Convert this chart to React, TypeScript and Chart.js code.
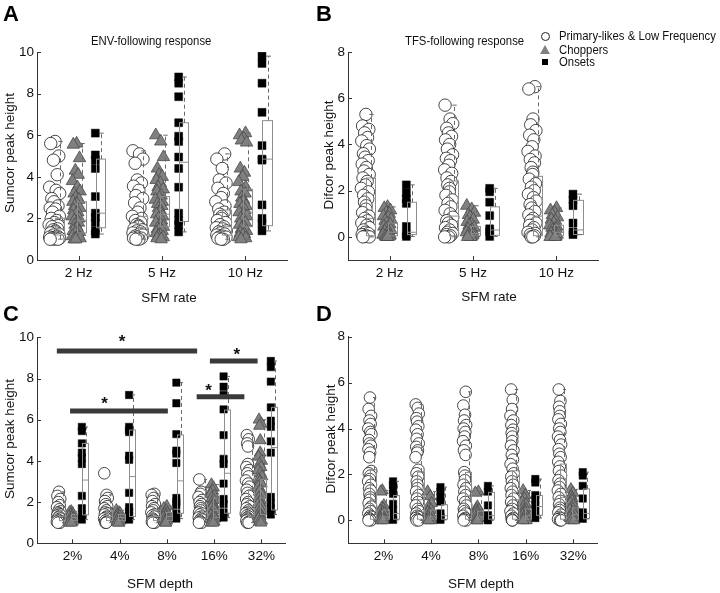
import React, { useEffect, useRef } from "react";
import { Chart, registerables } from "chart.js";
Chart.register(...registerables);

const W = 720;
const H = 593;
const FONT = "'Liberation Sans', Arial, Helvetica, sans-serif";

// ---------- categories & ticks ----------
const RATE_LABELS = ["2 Hz", "5 Hz", "10 Hz"];
const DEPTH_LABELS = ["2%", "4%", "8%", "16%", "32%"];
const SUMCOR_TICKS = [0, 2, 4, 6, 8, 10];
const DIFCOR_TICKS = [0, 2, 4, 6, 8];

// fixed hand-typed horizontal jitter pattern (normalised, -1..1)
const JITTER = [0.1, -0.7, 0.8, -0.2, 0.5, -0.9, 0.3, 0.95, -0.5, -0.1, 0.65, -0.8, 0.2, -0.35, 0.9, -0.6, 0.4, 0, -1, 0.7, -0.45, 0.55, -0.25, 0.15];

// ---------- Panel A: Sumcor, SFM rate ----------
const A_PL = [
  [5.7, 5.6, 5.0, 4.8, 4.1, 3.5, 3.35, 3.2, 2.95, 2.8, 2.6, 2.5, 2.45, 2.3, 2.1, 2.0, 1.9, 1.8, 1.7, 1.65, 1.6, 1.5, 1.45, 1.4, 1.35, 1.3, 1.25, 1.2, 1.15, 1.1, 1.1, 1.05, 1.05, 1.0, 1.0, 1.0],
  [5.25, 5.1, 4.85, 4.65, 3.85, 3.7, 3.55, 3.35, 3.1, 2.95, 2.75, 2.5, 2.3, 2.1, 2.0, 1.9, 1.8, 1.7, 1.65, 1.6, 1.5, 1.45, 1.4, 1.35, 1.3, 1.25, 1.2, 1.15, 1.1, 1.05, 1.05, 1.0, 1.0],
  [5.1, 4.85, 4.4, 3.85, 3.7, 3.45, 3.2, 3.0, 2.8, 2.6, 2.45, 2.3, 2.2, 2.1, 2.0, 1.9, 1.8, 1.7, 1.6, 1.55, 1.5, 1.4, 1.35, 1.3, 1.25, 1.2, 1.15, 1.1, 1.1, 1.05, 1.0, 1.0],
];
const A_CH = [
  [5.6, 5.55, 4.9, 4.3, 4.1, 3.8, 3.5, 3.3, 3.2, 3.0, 2.9, 2.8, 2.7, 2.6, 2.5, 2.4, 2.3, 2.2, 2.1, 2.0, 1.9, 1.8, 1.7, 1.6, 1.5, 1.4, 1.35, 1.3, 1.2, 1.15, 1.1, 1.05, 1.0, 1.0],
  [6.0, 5.7, 4.95, 4.4, 4.1, 4.0, 3.85, 3.7, 3.5, 3.4, 3.3, 3.1, 3.0, 2.9, 2.8, 2.7, 2.6, 2.5, 2.4, 2.3, 2.2, 2.1, 2.0, 1.9, 1.8, 1.7, 1.6, 1.5, 1.45, 1.4, 1.3, 1.2, 1.15, 1.1, 1.05, 1.0],
  [6.1, 6.0, 5.85, 5.75, 5.65, 4.4, 4.2, 4.0, 3.75, 3.5, 3.3, 3.2, 3.0, 2.9, 2.8, 2.7, 2.6, 2.5, 2.4, 2.3, 2.2, 2.1, 2.0, 1.9, 1.8, 1.7, 1.6, 1.5, 1.4, 1.3, 1.25, 1.2, 1.1, 1.05, 1.0],
];
const A_ON = [
  [6.1, 5.05, 4.8, 4.4, 3.05, 2.25, 2.05, 1.8, 1.4, 1.25],
  [8.8, 8.5, 7.85, 6.6, 5.95, 5.7, 4.95, 4.4, 3.5, 2.25, 1.9, 1.7, 1.35],
  [9.8, 9.45, 8.5, 7.1, 5.5, 4.85, 4.8, 2.65, 2.0, 1.75, 1.4],
];
// box stats: [min, q1, median, q3, max]
const A_PL_BOX = [[1.0, 1.2, 1.5, 2.0, 5.7], [1.0, 1.2, 1.55, 2.1, 5.25], [1.0, 1.2, 1.6, 2.4, 5.1]];
const A_CH_BOX = [[1.0, 1.3, 1.9, 2.8, 5.6], [1.0, 1.6, 2.2, 3.05, 6.0], [1.0, 1.6, 2.3, 3.4, 6.1]];
const A_ON_BOX = [[1.25, 1.55, 2.25, 4.85, 6.1], [1.35, 1.85, 4.7, 6.6, 8.8], [1.4, 1.65, 4.85, 6.7, 9.8]];

// ---------- Panel B: Difcor, SFM rate ----------
const B_PL = [
  [5.3, 4.8, 4.65, 4.5, 4.3, 4.15, 3.95, 3.8, 3.6, 3.45, 3.3, 3.15, 3.0, 2.85, 2.7, 2.55, 2.4, 2.25, 2.1, 1.95, 1.8, 1.65, 1.5, 1.35, 1.2, 1.05, 0.9, 0.8, 0.7, 0.6, 0.5, 0.4, 0.3, 0.2, 0.15, 0.1, 0.05, 0.02, 0.0, 0.0],
  [5.7, 5.1, 4.9, 4.7, 4.5, 4.35, 4.2, 4.0, 3.8, 3.55, 3.4, 3.3, 3.1, 2.9, 2.75, 2.55, 2.4, 2.25, 2.1, 1.95, 1.8, 1.6, 1.45, 1.3, 1.15, 1.0, 0.85, 0.7, 0.6, 0.5, 0.4, 0.3, 0.2, 0.15, 0.1, 0.05, 0.0, 0.0],
  [6.5, 6.4, 5.1, 4.85, 4.6, 4.4, 4.2, 3.9, 3.7, 3.5, 3.35, 3.2, 3.0, 2.8, 2.7, 2.5, 2.3, 2.15, 2.0, 1.85, 1.7, 1.55, 1.4, 1.25, 1.1, 0.95, 0.8, 0.7, 0.6, 0.5, 0.4, 0.3, 0.2, 0.15, 0.1, 0.05, 0.0, 0.0],
];
const B_CH = [
  [1.3, 1.25, 1.15, 1.05, 1.0, 0.9, 0.85, 0.75, 0.7, 0.6, 0.55, 0.45, 0.4, 0.35, 0.3, 0.25, 0.2, 0.15, 0.1, 0.08, 0.05, 0.03, 0.0, 0.0, 0.0],
  [1.35, 1.2, 1.05, 0.95, 0.85, 0.75, 0.65, 0.55, 0.5, 0.4, 0.35, 0.3, 0.25, 0.2, 0.15, 0.1, 0.07, 0.05, 0.02, 0.0, 0.0],
  [1.25, 1.15, 1.05, 0.95, 0.85, 0.75, 0.7, 0.6, 0.5, 0.45, 0.4, 0.35, 0.3, 0.25, 0.2, 0.15, 0.1, 0.05, 0.02, 0.0, 0.0],
];
const B_ON = [
  [2.25, 1.9, 1.65, 1.45, 0.45, 0.12, 0.02],
  [2.1, 1.95, 1.5, 0.92, 0.35, 0.22, 0.02],
  [1.85, 1.6, 1.35, 0.6, 0.22, 0.1],
];
const B_PL_BOX = [[0.0, 0.05, 0.8, 2.55, 5.3], [0.0, 0.05, 0.9, 2.42, 5.7], [0.0, 0.05, 0.9, 2.62, 6.5]];
const B_CH_BOX = [[0.0, 0.05, 0.2, 0.6, 1.3], [0.0, 0.05, 0.15, 0.45, 1.35], [0.0, 0.05, 0.2, 0.5, 1.25]];
const B_ON_BOX = [[0.02, 0.1, 0.2, 1.5, 2.25], [0.02, 0.07, 0.3, 1.3, 2.1], [0.1, 0.1, 0.3, 1.58, 1.85]];

// ---------- Panel C: Sumcor, SFM depth ----------
const C_PL = [
  [2.5, 2.3, 2.15, 2.0, 1.85, 1.75, 1.65, 1.55, 1.5, 1.45, 1.4, 1.35, 1.3, 1.25, 1.2, 1.15, 1.1, 1.1, 1.05, 1.0, 1.0],
  [3.4, 2.35, 2.2, 2.05, 1.9, 1.8, 1.7, 1.6, 1.5, 1.45, 1.4, 1.3, 1.25, 1.2, 1.15, 1.1, 1.05, 1.0, 1.0],
  [2.4, 2.35, 2.2, 2.05, 1.9, 1.8, 1.7, 1.6, 1.5, 1.4, 1.35, 1.3, 1.2, 1.15, 1.1, 1.05, 1.0, 1.0],
  [3.1, 2.5, 2.4, 2.25, 2.1, 2.0, 1.9, 1.8, 1.7, 1.6, 1.5, 1.45, 1.4, 1.3, 1.25, 1.2, 1.15, 1.1, 1.05, 1.0, 1.0],
  [5.25, 5.05, 4.85, 4.7, 3.85, 3.7, 3.55, 3.4, 3.25, 3.05, 2.9, 2.75, 2.6, 2.45, 2.3, 2.15, 2.0, 1.9, 1.8, 1.7, 1.6, 1.5, 1.45, 1.4, 1.35, 1.3, 1.25, 1.2, 1.15, 1.1, 1.05, 1.0, 1.0],
];
const C_CH = [
  [1.55, 1.5, 1.45, 1.4, 1.35, 1.3, 1.25, 1.2, 1.15, 1.1, 1.05, 1.0, 1.0],
  [1.6, 1.5, 1.45, 1.4, 1.35, 1.3, 1.25, 1.2, 1.15, 1.1, 1.05, 1.0, 1.0],
  [1.8, 1.7, 1.6, 1.5, 1.45, 1.4, 1.35, 1.3, 1.25, 1.2, 1.15, 1.1, 1.05, 1.0, 1.0],
  [2.85, 2.7, 2.55, 2.4, 2.3, 2.2, 2.1, 2.0, 1.9, 1.8, 1.7, 1.6, 1.5, 1.4, 1.35, 1.3, 1.2, 1.15, 1.1, 1.05, 1.0, 1.0],
  [6.0, 5.8, 5.7, 5.0, 4.4, 4.2, 4.0, 3.85, 3.7, 3.55, 3.4, 3.25, 3.1, 3.0, 2.9, 2.75, 2.6, 2.5, 2.35, 2.2, 2.1, 2.0, 1.9, 1.8, 1.7, 1.6, 1.5, 1.4, 1.3, 1.2, 1.1, 1.05, 1.0],
];
const C_ON = [
  [5.65, 5.45, 4.85, 4.4, 4.15, 3.85, 2.3, 1.7, 1.35, 1.15],
  [7.2, 5.65, 5.5, 5.4, 4.25, 4.05, 2.45, 1.75, 1.55, 1.35, 1.15],
  [7.8, 6.8, 5.3, 4.5, 4.35, 3.9, 2.2, 2.0, 1.85, 1.45, 1.2],
  [8.1, 7.6, 7.2, 6.5, 5.25, 4.1, 3.85, 2.9, 2.15, 1.9, 1.5, 1.25],
  [8.85, 8.55, 7.85, 6.6, 5.95, 5.65, 4.95, 4.4, 2.25, 1.95, 1.7, 1.4],
];
const C_PL_BOX = [[1.0, 1.1, 1.3, 1.6, 2.5], [1.0, 1.1, 1.3, 1.6, 2.35], [1.0, 1.1, 1.3, 1.6, 2.4], [1.0, 1.2, 1.5, 1.9, 3.1], [1.0, 1.3, 1.8, 2.6, 5.25]];
const C_CH_BOX = [[1.0, 1.1, 1.25, 1.4, 1.55], [1.0, 1.1, 1.25, 1.4, 1.6], [1.0, 1.1, 1.3, 1.5, 1.8], [1.0, 1.25, 1.6, 2.2, 2.85], [1.0, 1.4, 2.2, 3.1, 6.0]];
const C_ON_BOX = [[1.15, 1.38, 3.07, 4.85, 5.65], [1.15, 1.3, 3.24, 5.5, 7.2], [1.2, 1.46, 3.03, 5.26, 7.8], [1.25, 1.46, 3.4, 6.47, 8.1], [1.4, 1.62, 4.65, 6.6, 8.85]];
// significance bars: [x start, x end, y]; stars: [x, y]
const C_SIG_BARS = [[0.67, 3.64, 9.33], [0.95, 3.02, 6.42], [3.63, 4.64, 7.12], [3.91, 4.92, 8.85]];
const C_SIG_STARS = [[2.05, 9.95], [1.68, 6.92], [3.88, 7.58], [4.48, 9.3]];

// ---------- Panel D: Difcor, SFM depth ----------
const D_PL = [
  [5.35, 4.85, 4.55, 4.35, 4.2, 4.0, 3.85, 3.75, 3.5, 3.35, 3.25, 3.1, 2.95, 2.75, 2.15, 2.05, 1.95, 1.8, 1.7, 1.55, 1.4, 1.3, 1.15, 1.0, 0.9, 0.75, 0.6, 0.5, 0.4, 0.3, 0.2, 0.15, 0.1, 0.05, 0.0, 0.0],
  [5.05, 4.9, 4.65, 4.45, 4.3, 4.1, 3.95, 3.75, 3.55, 3.35, 3.2, 3.05, 2.95, 2.75, 2.2, 2.05, 1.9, 1.7, 1.55, 1.4, 1.25, 1.1, 0.95, 0.8, 0.65, 0.5, 0.4, 0.3, 0.2, 0.15, 0.1, 0.05, 0.0, 0.0],
  [5.6, 5.0, 4.6, 4.35, 4.15, 4.0, 3.85, 3.65, 3.45, 3.25, 3.05, 2.85, 2.1, 1.95, 1.75, 1.55, 1.4, 1.25, 1.1, 0.95, 0.8, 0.65, 0.5, 0.4, 0.3, 0.2, 0.1, 0.05, 0.0, 0.0],
  [5.7, 5.25, 4.85, 4.55, 4.35, 4.15, 3.95, 3.8, 3.65, 3.45, 3.25, 3.05, 2.85, 2.65, 2.45, 2.25, 2.05, 1.9, 1.7, 1.55, 1.4, 1.25, 1.1, 0.95, 0.8, 0.65, 0.5, 0.4, 0.3, 0.2, 0.1, 0.05, 0.0, 0.0],
  [5.7, 5.2, 4.95, 4.75, 4.55, 4.4, 4.2, 4.0, 3.85, 3.65, 3.5, 3.3, 3.1, 2.9, 2.75, 2.55, 2.35, 2.15, 1.95, 1.75, 1.6, 1.45, 1.3, 1.15, 1.0, 0.85, 0.7, 0.55, 0.45, 0.35, 0.25, 0.15, 0.1, 0.05, 0.0, 0.0],
];
const D_CH = [
  [1.3, 1.25, 0.65, 0.55, 0.5, 0.4, 0.35, 0.3, 0.25, 0.2, 0.15, 0.1, 0.08, 0.05, 0.03, 0.0, 0.0],
  [1.25, 1.05, 0.75, 0.6, 0.5, 0.45, 0.35, 0.3, 0.25, 0.2, 0.15, 0.1, 0.05, 0.03, 0.0, 0.0],
  [1.25, 1.2, 0.6, 0.5, 0.45, 0.4, 0.35, 0.3, 0.25, 0.2, 0.15, 0.1, 0.05, 0.0, 0.0],
  [1.3, 1.1, 0.95, 0.8, 0.7, 0.6, 0.5, 0.45, 0.4, 0.3, 0.25, 0.2, 0.15, 0.1, 0.05, 0.03, 0.0, 0.0],
  [1.35, 1.2, 1.05, 0.95, 0.85, 0.75, 0.65, 0.55, 0.5, 0.45, 0.35, 0.3, 0.25, 0.2, 0.15, 0.1, 0.05, 0.0, 0.0],
];
const D_ON = [
  [1.7, 1.55, 1.35, 1.15, 0.72, 0.45, 0.2, 0.02],
  [1.45, 1.25, 1.0, 0.82, 0.3, 0.15, 0.02],
  [1.5, 1.25, 0.65, 0.22, 0.05, 0.0],
  [1.8, 1.65, 1.1, 0.9, 0.65, 0.35, 0.1],
  [2.1, 1.95, 1.5, 0.95, 0.35, 0.22, 0.07],
];
const D_PL_BOX = [[0.0, 0.05, 0.9, 2.2, 5.35], [0.0, 0.05, 0.9, 2.1, 5.05], [0.0, 0.05, 0.9, 2.09, 5.6], [0.0, 0.05, 0.9, 2.16, 5.7], [0.0, 0.05, 1.0, 2.45, 5.7]];
const D_CH_BOX = [[0.0, 0.05, 0.15, 0.45, 1.3], [0.0, 0.05, 0.15, 0.45, 1.25], [0.0, 0.05, 0.15, 0.4, 1.25], [0.0, 0.05, 0.2, 0.5, 1.3], [0.0, 0.05, 0.25, 0.55, 1.35]];
const D_ON_BOX = [[0.02, 0.05, 0.3, 1.08, 1.7], [0.02, 0.05, 0.2, 0.68, 1.45], [0.0, 0.05, 0.2, 1.22, 1.5], [0.1, 0.22, 0.6, 1.08, 1.8], [0.07, 0.07, 0.3, 1.37, 2.1]];

// ---------- layout / style (not data) ----------
const OFFSET = { pl: -0.29, ch: -0.03, on: 0.2 };

const PANELS = [
  {
    area: [37, 52, 287, 260], x: [0.5, 3.5], y: [0, 10], yTicks: SUMCOR_TICKS, labels: RATE_LABELS,
    pl: A_PL, ch: A_CH, on: A_ON, plBox: A_PL_BOX, chBox: A_CH_BOX, onBox: A_ON_BOX,
    boxW: 0.11, spread: { pl: 0.065, ch: 0.05 }, r: { pl: 6.2, ch: 7.2, on: 5.6 },
  },
  {
    area: [348, 52, 598, 260], x: [0.5, 3.5], y: [-1, 8], yTicks: DIFCOR_TICKS, labels: RATE_LABELS,
    pl: B_PL, ch: B_CH, on: B_ON, plBox: B_PL_BOX, chBox: B_CH_BOX, onBox: B_ON_BOX,
    boxW: 0.11, spread: { pl: 0.05, ch: 0.05 }, r: { pl: 6.2, ch: 7.2, on: 5.6 },
  },
  {
    area: [37, 337.3, 285, 543.3], x: [0.25, 5.5], y: [0, 10], yTicks: SUMCOR_TICKS, labels: DEPTH_LABELS,
    pl: C_PL, ch: C_CH, on: C_ON, plBox: C_PL_BOX, chBox: C_CH_BOX, onBox: C_ON_BOX,
    boxW: 0.13, spread: { pl: 0.04, ch: 0.045 }, r: { pl: 5.8, ch: 6.8, on: 5.2 },
    sigBars: C_SIG_BARS, sigStars: C_SIG_STARS,
  },
  {
    area: [348, 336.7, 597, 543.3], x: [0.25, 5.5], y: [-1, 8], yTicks: DIFCOR_TICKS, labels: DEPTH_LABELS,
    pl: D_PL, ch: D_CH, on: D_ON, plBox: D_PL_BOX, chBox: D_CH_BOX, onBox: D_ON_BOX,
    boxW: 0.13, spread: { pl: 0.035, ch: 0.045 }, r: { pl: 5.8, ch: 6.8, on: 5.2 },
  },
];

function buildPoints(groups: number[][], offset: number, spread: number) {
  const pts: { x: number; y: number }[] = [];
  groups.forEach((vals, i) => {
    vals.forEach((v, j) => {
      pts.push({ x: i + 1 + offset + JITTER[(j + i * 5) % JITTER.length] * spread, y: v });
    });
  });
  return pts;
}

function makeChart(canvas: HTMLCanvasElement, p: any) {
  const [L, T, R, B] = p.area;
  const YW = 30;
  const XH = 30;
  const catTicks = p.labels.map((_: string, i: number) => i + 1);

  const boxes: { x0: number; x1: number; st: number[] }[] = [];
  (["pl", "ch", "on"] as const).forEach((k) => {
    const list = p[k + "Box"] as number[][];
    list.forEach((st, i) => {
      const x0 = i + 1 + OFFSET[k] + 0.005;
      boxes.push({ x0, x1: x0 + p.boxW, st });
    });
  });

  const boxPlugin = {
    id: "boxes",
    afterDatasetsDraw(chart: any) {
      const { ctx } = chart;
      const xs = chart.scales.x;
      const ys = chart.scales.y;
      ctx.save();
      ctx.lineWidth = 1;
      for (const b of boxes) {
        const x0 = Math.round(xs.getPixelForValue(b.x0)) + 0.5;
        const x1 = Math.round(xs.getPixelForValue(b.x1)) + 0.5;
        const xm = Math.round((x0 + x1) / 2) + 0.5;
        const [mn, q1, md, q3, mx] = b.st.map((v) => ys.getPixelForValue(v));
        ctx.strokeStyle = "#8e8e8e";
        ctx.setLineDash([]);
        ctx.strokeRect(x0, q3, x1 - x0, q1 - q3);
        ctx.beginPath();
        ctx.moveTo(x0, md);
        ctx.lineTo(x1, md);
        ctx.stroke();
        ctx.strokeStyle = "#6a6a6a";
        ctx.setLineDash([4, 3]);
        ctx.beginPath();
        ctx.moveTo(xm, q3);
        ctx.lineTo(xm, mx);
        ctx.moveTo(xm, q1);
        ctx.lineTo(xm, mn);
        ctx.stroke();
        ctx.setLineDash([]);
        const cw = (x1 - x0) / 4;
        ctx.beginPath();
        ctx.moveTo(xm - cw, mx);
        ctx.lineTo(xm + cw, mx);
        ctx.moveTo(xm - cw, mn);
        ctx.lineTo(xm + cw, mn);
        ctx.stroke();
      }
      ctx.restore();
    },
  };

  const tickPlugin = {
    id: "inticks",
    afterDraw(chart: any) {
      const { ctx, chartArea } = chart;
      const xs = chart.scales.x;
      const ys = chart.scales.y;
      ctx.save();
      ctx.strokeStyle = "#333";
      ctx.lineWidth = 1;
      ctx.beginPath();
      for (const v of p.yTicks) {
        const py = Math.round(ys.getPixelForValue(v)) + 0.5;
        ctx.moveTo(chartArea.left, py);
        ctx.lineTo(chartArea.left + 4, py);
      }
      for (const v of catTicks) {
        const px = Math.round(xs.getPixelForValue(v)) + 0.5;
        ctx.moveTo(px, chartArea.bottom);
        ctx.lineTo(px, chartArea.bottom - 4);
      }
      ctx.stroke();
      ctx.restore();
    },
  };

  const plugins: any[] = [boxPlugin, tickPlugin];
  if (p.sigBars) {
    plugins.push({
      id: "sig",
      afterDatasetsDraw(chart: any) {
        const { ctx } = chart;
        const xs = chart.scales.x;
        const ys = chart.scales.y;
        ctx.save();
        ctx.strokeStyle = "#3a3a3a";
        ctx.lineWidth = 5;
        ctx.lineCap = "butt";
        for (const [a, b, yv] of p.sigBars) {
          ctx.beginPath();
          ctx.moveTo(xs.getPixelForValue(a), ys.getPixelForValue(yv));
          ctx.lineTo(xs.getPixelForValue(b), ys.getPixelForValue(yv));
          ctx.stroke();
        }
        ctx.fillStyle = "#111";
        ctx.font = "bold 17px " + FONT;
        ctx.textAlign = "center";
        ctx.textBaseline = "middle";
        for (const [sx, sy] of p.sigStars) {
          ctx.fillText("*", xs.getPixelForValue(sx), ys.getPixelForValue(sy) + 4);
        }
        ctx.restore();
      },
    });
  }

  const datasets = [
    {
      label: "Onsets",
      data: buildPoints(p.on, OFFSET.on, 0),
      pointStyle: "rect",
      pointRadius: p.r.on,
      pointBackgroundColor: "#000",
      pointBorderColor: "#000",
      pointBorderWidth: 0.5,
    },
    {
      label: "Choppers",
      data: buildPoints(p.ch, OFFSET.ch, p.spread.ch),
      pointStyle: "triangle",
      pointRadius: p.r.ch,
      pointBackgroundColor: "#808080",
      pointBorderColor: "#4a4a4a",
      pointBorderWidth: 0.8,
    },
    {
      label: "Primary-likes & Low Frequency",
      data: buildPoints(p.pl, OFFSET.pl, p.spread.pl),
      pointStyle: "circle",
      pointRadius: p.r.pl,
      pointBackgroundColor: "#fff",
      pointBorderColor: "#1a1a1a",
      pointBorderWidth: 0.8,
    },
  ];

  return new Chart(canvas, {
    type: "scatter",
    data: { datasets } as any,
    plugins,
    options: {
      responsive: false,
      animation: false,
      devicePixelRatio: 1,
      events: [],
      layout: { padding: { left: L - YW, top: T, right: W - R, bottom: H - B - XH } },
      plugins: { legend: { display: false }, tooltip: { enabled: false } },
      scales: {
        x: {
          type: "linear",
          min: p.x[0],
          max: p.x[1],
          afterFit: (s: any) => {
            s.height = XH;
          },
          afterBuildTicks: (s: any) => {
            s.ticks = catTicks.map((v: number) => ({ value: v }));
          },
          ticks: {
            autoSkip: false,
            maxRotation: 0,
            padding: 5,
            color: "#111",
            font: { family: FONT, size: 13.5 },
            callback: (v: any) => p.labels[Math.round(v) - 1] ?? "",
          },
          grid: { display: false, drawTicks: false },
          border: { display: true, color: "#333", width: 1 },
        },
        y: {
          type: "linear",
          min: p.y[0],
          max: p.y[1],
          afterFit: (s: any) => {
            s.width = YW;
          },
          afterBuildTicks: (s: any) => {
            s.ticks = p.yTicks.map((v: number) => ({ value: v }));
          },
          ticks: {
            padding: 3,
            color: "#111",
            font: { family: FONT, size: 13.5 },
            callback: (v: any) => String(v),
          },
          grid: { display: false, drawTicks: false },
          border: { display: true, color: "#333", width: 1 },
        },
      },
    } as any,
  });
}

const baseText: React.CSSProperties = {
  position: "absolute",
  fontFamily: FONT,
  color: "#111",
  whiteSpace: "nowrap",
  lineHeight: 1,
};

function Centered({ x, y, size, children, rotate, bold }: any) {
  return (
    <div
      style={{
        ...baseText,
        left: x,
        top: y,
        fontSize: size,
        fontWeight: bold ? "bold" : "normal",
        transform: `translate(-50%, -50%)${rotate ? " rotate(-90deg)" : ""}`,
      }}
    >
      {children}
    </div>
  );
}

function Condensed({ x, y, children }: any) {
  return (
    <div
      style={{
        ...baseText,
        left: x,
        top: y,
        fontSize: 13.5,
        transformOrigin: "left center",
        transform: "translateY(-50%) scaleX(0.84)",
      }}
    >
      {children}
    </div>
  );
}

function Letter({ x, y, children }: any) {
  return (
    <div style={{ ...baseText, left: x, top: y, fontSize: 22, fontWeight: "bold", color: "#000" }}>{children}</div>
  );
}

export default function App() {
  const refs = [useRef<HTMLCanvasElement>(null), useRef<HTMLCanvasElement>(null), useRef<HTMLCanvasElement>(null), useRef<HTMLCanvasElement>(null)];

  useEffect(() => {
    document.body.style.margin = "0";
    const charts = PANELS.map((p, i) => makeChart(refs[i].current as HTMLCanvasElement, p));
    return () => charts.forEach((c) => c.destroy());
  }, []);

  return (
    <div style={{ position: "relative", width: W, height: H, background: "#fff", overflow: "hidden" }}>
      {PANELS.map((_, i) => (
        <canvas
          key={i}
          ref={refs[i]}
          width={W}
          height={H}
          style={{ position: "absolute", left: 0, top: 0, width: W, height: H, display: "block" }}
        />
      ))}

      <Letter x={3} y={3}>A</Letter>
      <Letter x={316} y={3}>B</Letter>
      <Letter x={3} y={303}>C</Letter>
      <Letter x={316} y={303}>D</Letter>

      <Condensed x={91} y={41}>ENV-following response</Condensed>
      <Condensed x={405} y={41}>TFS-following response</Condensed>

      {/* legend */}
      <div style={{ position: "absolute", left: 540.5, top: 31.5, width: 9, height: 9, boxSizing: "border-box", border: "1px solid #222", borderRadius: "50%", background: "#fff" }} />
      <div style={{ position: "absolute", left: 539.5, top: 45, width: 0, height: 0, borderLeft: "5.5px solid transparent", borderRight: "5.5px solid transparent", borderBottom: "9px solid #808080" }} />
      <div style={{ position: "absolute", left: 542, top: 59, width: 6, height: 6, background: "#000" }} />
      <Condensed x={559} y={36}>Primary-likes &amp; Low Frequency</Condensed>
      <Condensed x={559} y={49.5}>Choppers</Condensed>
      <Condensed x={559} y={62}>Onsets</Condensed>

      <Centered x={10} y={153} size={13.5} rotate>Sumcor peak height</Centered>
      <Centered x={329} y={155} size={13.5} rotate>Difcor peak height</Centered>
      <Centered x={10} y={439} size={13.5} rotate>Sumcor peak height</Centered>
      <Centered x={331} y={439} size={13.5} rotate>Difcor peak height</Centered>

      <Centered x={169} y={298} size={13.5}>SFM rate</Centered>
      <Centered x={489} y={297} size={13.5}>SFM rate</Centered>
      <Centered x={160} y={584} size={13.5}>SFM depth</Centered>
      <Centered x={481} y={584} size={13.5}>SFM depth</Centered>
    </div>
  );
}
